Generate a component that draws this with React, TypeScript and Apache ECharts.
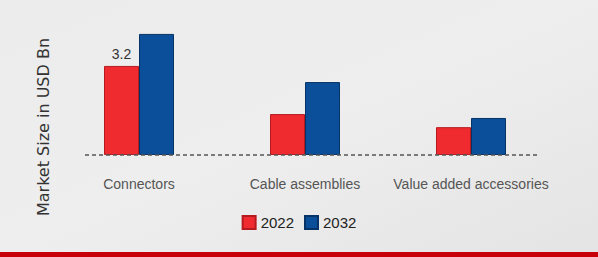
import React, { useEffect, useRef } from "react";
import * as echarts from "echarts";

const categories = ["Connectors", "Cable assemblies", "Value added accessories"];
const values2022 = [3.2, 1.47, 1.0];
const values2032 = [4.35, 2.62, 1.33];
const seriesNames = ["2022", "2032"];

export default function App() {
  const ref = useRef<HTMLDivElement>(null);
  useEffect(() => {
    if (!ref.current) return;
    const chart = echarts.init(ref.current, null, { renderer: "svg" });
    chart.setOption({
      animation: false,
      backgroundColor: {
        type: "linear",
        x: 0,
        y: 0,
        x2: 1,
        y2: 1,
        colorStops: [
          { offset: 0, color: "#ececec" },
          { offset: 0.5, color: "#eeeeee" },
          { offset: 1, color: "#e4e4e4" },
        ],
      },
      grid: { left: 56, width: 498, top: 20, bottom: 102 },
      legend: {
        data: seriesNames,
        bottom: 22,
        left: "center",
        itemWidth: 13,
        itemHeight: 13,
        itemGap: 10,
        icon: "rect",
        textStyle: { fontFamily: "Liberation Sans", fontSize: 15, color: "#222" },
      },
      xAxis: {
        type: "category",
        data: categories,
        axisLine: { show: false },
        axisTick: { show: false },
        axisLabel: {
          interval: 0,
          fontFamily: "Liberation Sans",
          fontSize: 14,
          color: "#555",
          margin: 22,
        },
      },
      yAxis: {
        type: "value",
        min: 0,
        max: 4.85,
        show: false,
      },
      graphic: [
        {
          type: "text",
          x: 43,
          y: 127,
          rotation: Math.PI / 2,
          style: {
            text: "Market Size in USD Bn",
            fontFamily: "DejaVu Sans",
            fontSize: 16,
            fill: "#333",
            align: "center",
            verticalAlign: "middle",
          },
        },
        {
          type: "line",
          shape: { x1: 85, y1: 155, x2: 540, y2: 155 },
          style: { stroke: "#555", lineWidth: 1.3, lineDash: [4, 3] },
          z: 10,
        },
        {
          type: "rect",
          shape: { x: 0, y: 252, width: 598, height: 5 },
          style: { fill: "#c8000a" },
        },
      ],
      series: [
        {
          name: seriesNames[0],
          type: "bar",
          data: values2022,
          barWidth: 35,
          barGap: "0%",
          itemStyle: { color: "#ef2b30", borderColor: "#b51a1e", borderWidth: 1 },
          label: {
            show: true,
            position: "top",
            fontFamily: "Liberation Sans",
            fontSize: 14,
            color: "#333",
            formatter: (p: any) => (p.dataIndex === 0 ? String(p.value) : ""),
          },
        },
        {
          name: seriesNames[1],
          type: "bar",
          data: values2032,
          barWidth: 35,
          itemStyle: { color: "#0b4f9a", borderColor: "#063466", borderWidth: 1 },
        },
      ],
    });
    return () => chart.dispose();
  }, []);
  return <div ref={ref} style={{ width: 598, height: 257, position: "absolute", left: 0, top: 0 }} />;
}
